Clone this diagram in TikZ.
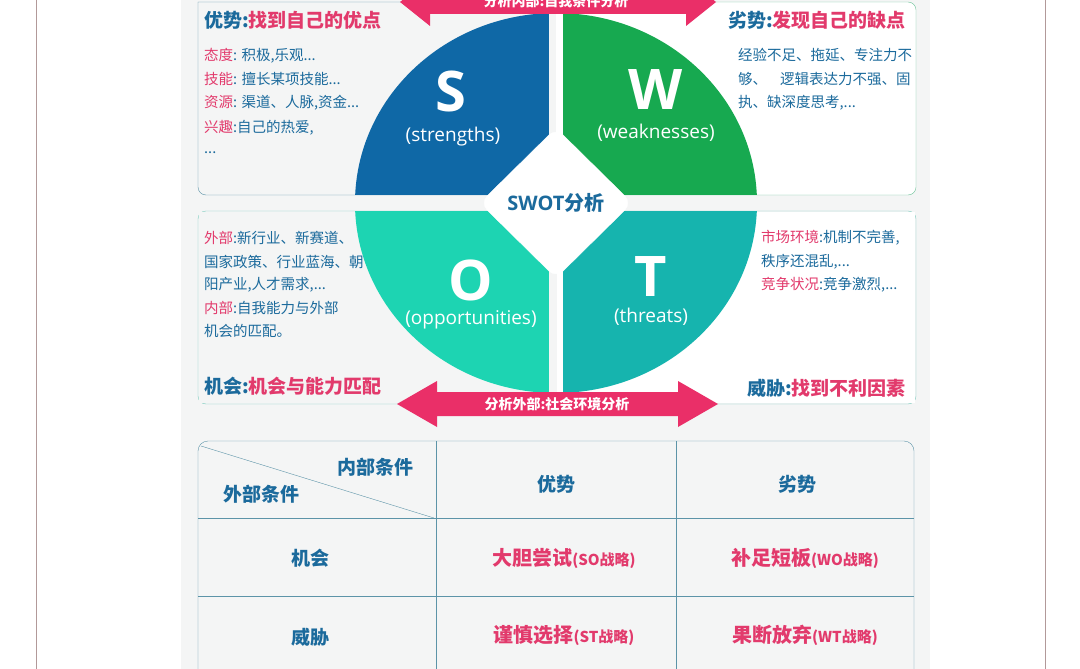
\documentclass[tikz,border=0pt]{standalone}
\usepackage{fontspec}
\setmainfont{Noto Sans CJK SC}
\newfontfamily\latf{Open Sans}
\definecolor{tblue}{HTML}{1B6A9C}
\definecolor{tpink}{HTML}{E23A6C}
\definecolor{sblue}{HTML}{0F68A6}
\definecolor{wgreen}{HTML}{17A950}
\definecolor{oturq}{HTML}{1DD4B2}
\definecolor{tteal}{HTML}{16B4AE}
\definecolor{panel}{HTML}{F4F5F5}
\definecolor{arrowpink}{HTML}{EA2F68}
\definecolor{lineblue}{HTML}{5C94A8}
\definecolor{linegreen}{HTML}{6CC398}
\definecolor{lineteal}{HTML}{7CCBBE}
\tikzset{
  body/.style={anchor=west,font=\fontsize{14.5}{16}\selectfont,text=tblue,inner sep=0pt},
  head/.style={font=\fontsize{19}{21}\selectfont\bfseries,inner sep=0pt},
  big/.style={font=\latf\fontsize{56}{56}\selectfont\bfseries,text=white,inner sep=0pt},
  sub/.style={font=\latf\fontsize{19}{20}\selectfont,text=white,inner sep=0pt},
  cell/.style={font=\fontsize{19}{21}\selectfont\bfseries,text=tblue},
  strat/.style={font=\fontsize{20}{22}\selectfont\bfseries,text=tpink},
}
\newcommand{\pk}[1]{\textcolor{tpink}{#1}}
\newcommand{\sm}[1]{{\fontsize{15}{17}\selectfont #1}}
\begin{document}
\begin{tikzpicture}[x=1pt,y=-1pt]
\useasboundingbox (0,0) rectangle (1080,669);
\fill[white] (0,0) rectangle (1080,669);
\draw[color=gray!60!pink,line width=1pt] (36,0) -- (36,669) (1045,0) -- (1045,669);
\fill[panel] (181,0) rectangle (930,669);
% boxes
\draw[lineblue,fill=panel,rounded corners=8] (198,2) -- (198,195) -- (556,195) (556,2) -- (198,2);
\draw[linegreen,fill=white,rounded corners=8] (556,2) -- (916,2) -- (916,195) -- (556,195);
\draw[lineteal,rounded corners=8] (198,211) rectangle (916,404);
\fill[panel] (199,212) rectangle (555,403);
\fill[white] (557,212) rectangle (915,403);
% quadrants
\begin{scope}
\clip (556,203) ellipse [x radius=201, y radius=190];
\fill[sblue] (340,0) rectangle (549,195);
\fill[wgreen] (563,0) rectangle (780,195);
\fill[oturq] (340,211) rectangle (549,420);
\fill[tteal] (563,211) rectangle (780,420);
\end{scope}
\node[big] (S) at (451,91) {S};
\node[sub] (Ss) at (453,137) {(strengths)};
\node[big] (W) at (656,90) {W};
\node[sub] (Ws) at (656,133) {(weaknesses)};
\node[big] (O) at (471,280) {O};
\node[sub] (Os) at (471,320) {(opportunities)};
\node[big] (T) at (651,277) {T};
\node[sub] (Ts) at (651,317) {(threats)};
% diamond
\draw[white,fill=white,rounded corners=10] (556,128) -- (632,203) -- (556,278) -- (480,203) -- cycle;
\node[font=\latf\fontsize{20}{22}\selectfont\bfseries,text=tblue] (swot) at (556,203) {SWOT\fontspec{Noto Sans CJK SC}分析};
% arrows
\fill[arrowpink] (400,2) -- (430,-22) -- (430,-10) -- (686,-10) -- (686,-22) -- (716,2) -- (686,26) -- (686,14) -- (430,14) -- (430,26) -- cycle;
\node[text=white,font=\fontsize{14}{16}\selectfont\bfseries] (ta) at (556,1) {分析内部:自我条件分析};
\fill[arrowpink] (397,404) -- (437,381) -- (437,392) -- (678,392) -- (678,381) -- (718,404) -- (678,427) -- (678,416) -- (437,416) -- (437,427) -- cycle;
\node[text=white,font=\fontsize{14}{16}\selectfont\bfseries] (ba) at (557,404) {分析外部:社会环境分析};
% texts S
\node[head,anchor=west,text=tblue] (hs) at (204,20) {优势:\pk{找到自己的优点}};
\node[body] (s1) at (204,56) {\pk{态度}: 积极,乐观...};
\node[body] (s2) at (204,79) {\pk{技能}: 擅长某项技能...};
\node[body] (s3) at (204,103) {\pk{资源}: 渠道、人脉,资金...};
\node[body] (s4) at (204,128) {\pk{兴趣}:自己的热爱,};
\node[body] (s5) at (204,153) {...};
% W
\node[head,anchor=east,text=tblue] (hw) at (906,20) {劣势:\pk{发现自己的缺点}};
\node[body] (w1) at (738,55) {经验不足、拖延、专注力不};
\node[body] (w2) at (738,79) {够、\hspace{0.9em}逻辑表达力不强、固};
\node[body] (w3) at (738,103) {执、缺深度思考,...};
% O
\node[body] (o1) at (204,238) {\pk{外部}:新行业、新赛道、};
\node[body] (o2) at (204,262) {国家政策、行业蓝海、朝};
\node[body] (o3) at (204,285) {阳产业,人才需求,...};
\node[body] (o4) at (204,308) {\pk{内部}:自我能力与外部};
\node[body] (o5) at (204,331) {机会的匹配。};
\node[head,anchor=west,text=tblue] (ho) at (204,386) {机会:\pk{机会与能力匹配}};
% T
\node[body] (t1) at (761,238) {\pk{市场环境}:机制不完善,};
\node[body] (t2) at (761,262) {秩序还混乱,...};
\node[body] (t3) at (761,285) {\pk{竞争状况}:竞争激烈,...};
\node[head,anchor=east,text=tblue] (ht) at (906,388) {威胁:\pk{找到不利因素}};
% table
\draw[lineblue,rounded corners=10] (198,700) -- (198,441) -- (914,441) -- (914,700);
\draw[lineblue] (436,441) -- (436,669) (676,441) -- (676,669)
  (198,518) -- (914,518) (198,596) -- (914,596);
\draw[lineblue,thin] (201,446) -- (434,518);
\node[cell] (nb) at (375,467) {内部条件};
\node[cell] (wb) at (261,494) {外部条件};
\node[cell] (ys) at (556,484) {优势};
\node[cell] (ls) at (797,484) {劣势};
\node[cell] (jh) at (310,558) {机会};
\node[cell] (wx) at (310,637) {威胁};
\node[strat] (so) at (564,558) {大胆尝试\sm{(SO战略)}};
\node[strat] (wo) at (805,558) {补足短板\sm{(WO战略)}};
\node[strat] (st) at (564,635) {谨慎选择\sm{(ST战略)}};
\node[strat] (wt) at (805,635) {果断放弃\sm{(WT战略)}};
\end{tikzpicture}
\end{document}
